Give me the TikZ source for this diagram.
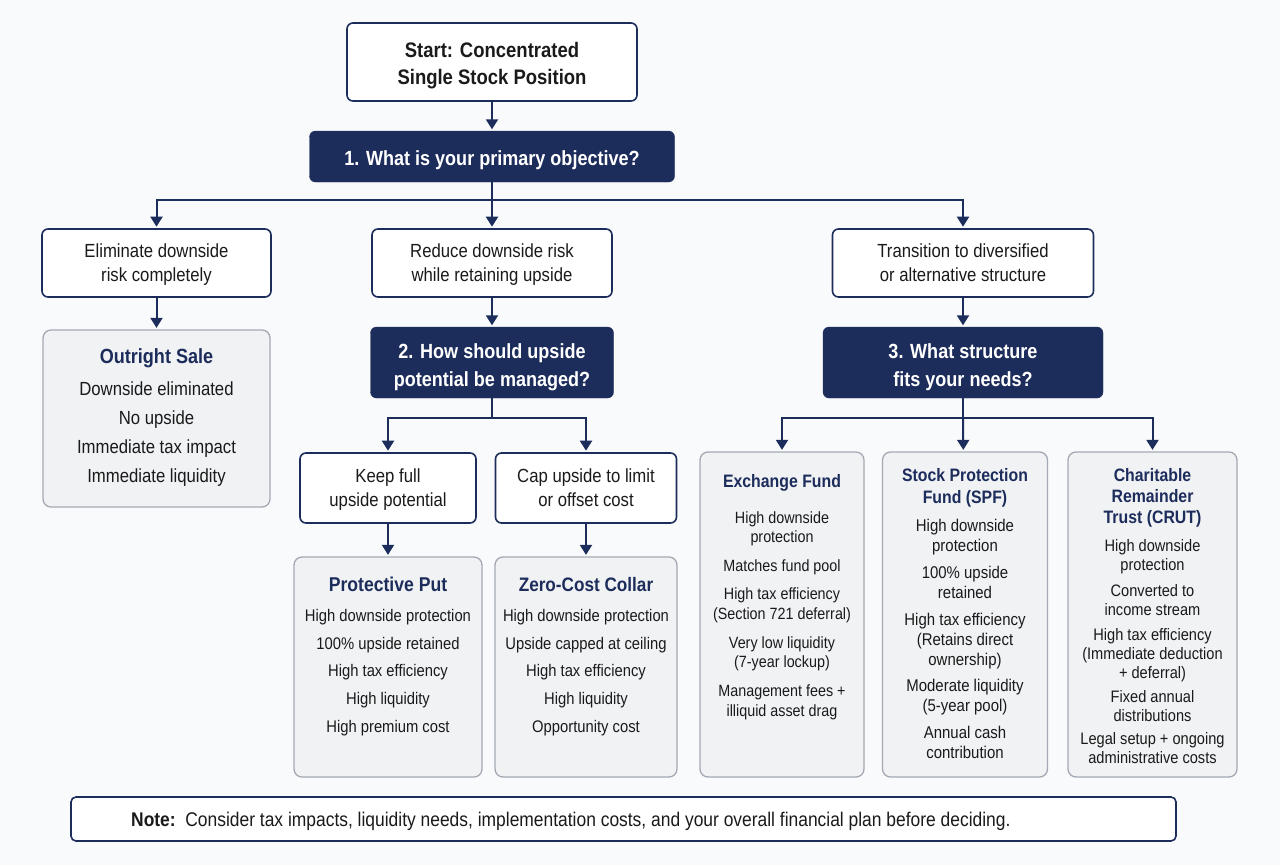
\documentclass[tikz,border=0pt]{standalone}
\usepackage{fontspec}
\setmainfont{Liberation Sans}[FakeStretch=0.88]
\usetikzlibrary{arrows.meta}
\definecolor{navy}{HTML}{1C2C5B}
\definecolor{bgc}{HTML}{F9FAFB}
\definecolor{outfill}{HTML}{F1F2F4}
\definecolor{outline}{HTML}{A3A9B3}
\definecolor{txt}{HTML}{1A1A1A}
\newcommand{\fsz}[2]{\fontsize{#1}{#2}\selectfont}
\tikzset{
  startbox/.style={draw=navy, line width=1.6pt, fill=white, rounded corners=6pt, minimum width=290pt, minimum height=78pt, align=center, text=txt, inner sep=0pt, text depth=0pt, font=\bfseries\fsz{21}{27}},
  qbox/.style={fill=navy, draw=navy, rounded corners=6pt, text=white, align=center, inner sep=0pt, text depth=0pt, font=\bfseries\fsz{20.5}{28}},
  optbox/.style={draw=navy, line width=1.6pt, fill=white, rounded corners=6pt, align=center, text=txt, inner sep=0pt, text depth=0pt, font=\fsz{19}{24}},
  outbox/.style={draw=outline, line width=1.3pt, fill=outfill, rounded corners=8pt, inner sep=0pt},
  outtitle/.style={text=navy, align=center, inner sep=0pt, text depth=0pt, font=\bfseries\fsz{18}{21.5}},
  outbody/.style={text=txt, align=center, anchor=north, inner sep=0pt},
  arr/.style={draw=navy, line width=2pt, shorten >=1.5pt, -{Triangle[length=10pt,width=12pt]}},
  ln/.style={draw=navy, line width=2pt},
  notebox/.style={draw=navy, line width=1.6pt, fill=white, rounded corners=5pt, inner sep=0pt},
  notetxt/.style={text=txt, anchor=west, inner sep=0pt, text depth=0pt, font=\fsz{19.8}{22}}
}
\begin{document}
\begin{tikzpicture}[x=1pt,y=-1pt]
\fill[bgc] (0,0) rectangle (1280,865);
\useasboundingbox (0,0) rectangle (1280,865);

% top
\node[startbox] (start) at (492,62) {};
\node[startbox, draw=none, fill=none, minimum width=0pt, minimum height=0pt] (startT) at (492,63.5) {Start: Concentrated\\Single Stock Position};
\node[qbox, minimum width=365pt, minimum height=51pt] (q1) at (492,156.5) {};
\node[qbox, draw=none, fill=none] (q1T) at (492,158) {1. What is your primary objective?};

% level 1 options
\node[optbox, minimum width=229pt, minimum height=68pt] (optA) at (156.5,263) {Eliminate downside\\risk completely};
\node[optbox, minimum width=240pt, minimum height=68pt] (optB) at (492,263) {Reduce downside risk\\while retaining upside};
\node[optbox, minimum width=261pt, minimum height=68pt] (optC) at (963,263) {Transition to diversified\\or alternative structure};

% outright sale
\node[outbox, minimum width=227pt, minimum height=177pt] (sale) at (156.5,418.5) {};
\node[outtitle, font=\bfseries\fsz{20.5}{24}] (saleT) at (156.5,356) {Outright Sale};
\node[outbody, font=\fsz{19}{22}] (saleB) at (156.5,382) {Downside eliminated\\[7pt]No upside\\[7pt]Immediate tax impact\\[7pt]Immediate liquidity};

% question 2
\node[qbox, minimum width=243pt, minimum height=71pt] (q2) at (492,362.5) {};
\node[qbox, draw=none, fill=none] (q2T) at (492,365) {2. How should upside\\potential be managed?};
\node[optbox, minimum width=176pt, minimum height=70pt] (keep) at (388,488) {Keep full\\upside potential};
\node[optbox, minimum width=181pt, minimum height=70pt] (cap) at (586,488) {Cap upside to limit\\or offset cost};

\node[outbox, minimum width=188pt, minimum height=220pt] (pp) at (388,667) {};
\node[outtitle, font=\bfseries\fsz{20}{24}] (ppT) at (388,584) {Protective Put};
\node[outbody, font=\fsz{16.8}{20}] (ppB) at (388,609) {High downside protection\\[7.75pt]100\% upside retained\\[7.75pt]High tax efficiency\\[7.75pt]High liquidity\\[7.75pt]High premium cost};

\node[outbox, minimum width=182pt, minimum height=220pt] (zc) at (586,667) {};
\node[outtitle, font=\bfseries\fsz{19.5}{24}] (zcT) at (586,584) {Zero-Cost Collar};
\node[outbody, font=\fsz{16.8}{20}] (zcB) at (586,609) {High downside protection\\[7.75pt]Upside capped at ceiling\\[7.75pt]High tax efficiency\\[7.75pt]High liquidity\\[7.75pt]Opportunity cost};

% question 3
\node[qbox, minimum width=280pt, minimum height=71pt] (q3) at (963,362.5) {};
\node[qbox, draw=none, fill=none] (q3T) at (963,365) {3. What structure\\fits your needs?};

\node[outbox, minimum width=164pt, minimum height=325pt] (ef) at (782,614.5) {};
\node[outtitle] (efT) at (782,481) {Exchange Fund};
\node[outbody, font=\fsz{16.3}{19.8}] (efB) at (782,511) {High downside\\protection\\[8.5pt]Matches fund pool\\[8.5pt]High tax efficiency\\(Section 721 deferral)\\[9pt]Very low liquidity\\(7-year lockup)\\[9pt]Management fees +\\illiquid asset drag};

\node[outbox, minimum width=165pt, minimum height=325pt] (spf) at (965,614.5) {};
\node[outtitle, font=\bfseries\fsz{18}{22}] (spfT) at (965,486) {Stock Protection\\Fund (SPF)};
\node[outbody, font=\fsz{17}{19.8}] (spfB) at (965,519) {High downside\\protection\\[7.5pt]100\% upside\\retained\\[7.5pt]High tax efficiency\\(Retains direct\\ownership)\\[6.5pt]Moderate liquidity\\(5-year pool)\\[7.5pt]Annual cash\\contribution};

\node[outbox, minimum width=169pt, minimum height=325pt] (crut) at (1152.5,614.5) {};
\node[outtitle, font=\bfseries\fsz{18}{21}] (crutT) at (1152.5,496) {Charitable\\Remainder\\Trust (CRUT)};
\node[outbody, font=\fsz{16.6}{19}] (crutB) at (1152.5,539) {High downside\\protection\\[7pt]Converted to\\income stream\\[6pt]High tax efficiency\\(Immediate deduction\\+ deferral)\\[5pt]Fixed annual\\distributions\\[4pt]Legal setup + ongoing\\administrative costs};

% note
\node[notebox, minimum width=1105pt, minimum height=44pt] (note) at (623.5,819) {};
\node[notetxt] (noteT) at (131,819) {\textbf{Note:}\ \ Consider tax impacts, liquidity needs, implementation costs, and your overall financial plan before deciding.};

% connectors
\coordinate (j1) at (492,200);
\coordinate (j2) at (492,418);
\coordinate (j3) at (963,418);
\draw[arr] (start) -- (q1);
\draw[ln] (q1) -- (j1);
\draw[arr] (j1) -| (optA);
\draw[arr] (j1) -- (optB);
\draw[arr] (j1) -| (optC);
\draw[arr] (optA) -- (sale);
\draw[arr] (optB) -- (q2);
\draw[arr] (optC) -- (q3);
\draw[ln] (q2) -- (j2);
\draw[arr] (j2) -| (keep);
\draw[arr] (j2) -| (cap);
\draw[arr] (keep) -- (pp);
\draw[arr] (cap) -- (zc);
\draw[ln] (q3) -- (j3);
\draw[arr] (j3) -| (ef);
\draw[arr] (j3) -- (spf);
\draw[arr] (j3) -| (crut);
\end{tikzpicture}
\end{document}
